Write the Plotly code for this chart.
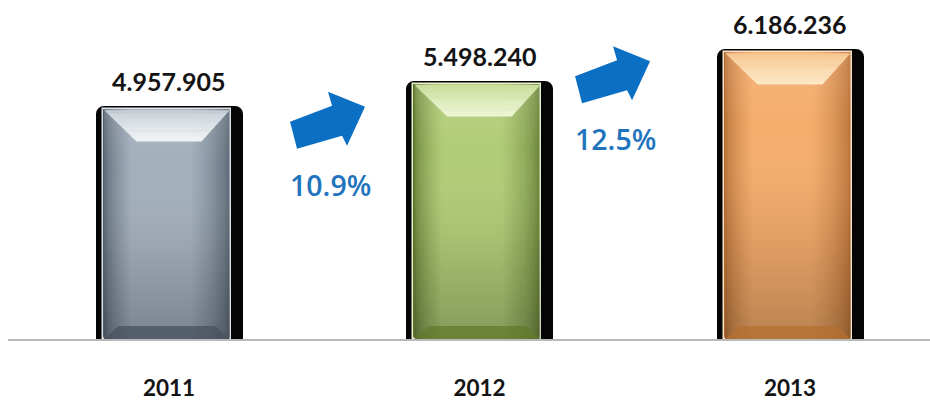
import plotly.graph_objects as go

# ---- data -------------------------------------------------------------
YEARS = ["2011", "2012", "2013"]
VALUES = [4957905, 5498240, 6186236]

# ---- styling ----------------------------------------------------------
W, H = 930, 401
M_L, M_R, M_T, M_B = 8, 0, 0, 58
X_RANGE = [-0.5185, 2.451]
Y_MAX = 7.298e6
UX = (W - M_L - M_R) / (X_RANGE[1] - X_RANGE[0])  # pixels per x unit

PALETTES = [
    # edge, centre, light rim, bevel top, bevel bottom edge, bottom band
    dict(edge="#4f5c69", centre="#a3afbb", rim="#dde3e8",
         top0="#c3ccd4", top1="#f1f4f6", bottom="#46525e"),
    dict(edge="#5f7830", centre="#b1cc78", rim="#e6efcf",
         top0="#c8dc98", top1="#eef5d6", bottom="#62792c"),
    dict(edge="#b06a30", centre="#f5ad6c", rim="#fbe3c8",
         top0="#f7c58c", top1="#fde8c6", bottom="#b3702f"),
]

FONT = "Lato, 'Open Sans', sans-serif"
PCT_FONT = "'Open Sans', Lato, sans-serif"
BLUE_ARROW = "#0b6fc3"
BLUE_TEXT = "#1f74bd"

# arrow / growth label anchor (x in category units, y in data units)
ARROW_POS = [(0.509, 4.72e6), (1.427, 5.70e6)]
# arrow outline in pixels around its anchor (y up)
ARROW_PATH = [(-37, -2), (5, 14), (1, 28), (38, 13), (20, -26), (15, -16), (-30, -29)]

# face geometry in pixels relative to the bar centre
FACE_L, FACE_R = -66, 62
SHADOW_L, SHADOW_R = -70, 71


def mix(c1, c2, t):
    a = [int(c1[i:i + 2], 16) for i in (1, 3, 5)]
    b = [int(c2[i:i + 2], 16) for i in (1, 3, 5)]
    return "#" + "".join(f"{round(a[i] + (b[i] - a[i]) * t):02x}" for i in range(3))


fig = go.Figure()
xs = list(range(len(YEARS)))

# dark rounded backing of each bar
fig.add_trace(go.Bar(
    x=xs, y=VALUES,
    offset=SHADOW_L / UX, width=(SHADOW_R - SHADOW_L) / UX,
    marker=dict(color="#050505", line=dict(color="#050505", width=6), cornerradius=5),
    hoverinfo="skip", showlegend=False,
))

# nested bars build the side-to-centre shading of each face
N_LEVELS = 20
DL, DR = 1.5, 2.1
for k in range(N_LEVELS):
    t = (k / (N_LEVELS - 1)) ** 0.55
    left = FACE_L + k * DL
    right = FACE_R - k * DR
    colors = [mix(p["edge"], p["centre"], t) for p in PALETTES]
    line = dict(width=0)
    if k == 0:
        line = dict(color=[p["rim"] for p in PALETTES], width=1.5)
    fig.add_trace(go.Bar(
        x=xs, y=VALUES,
        offset=left / UX, width=(right - left) / UX,
        marker=dict(color=colors, line=line),
        hoverinfo="skip", showlegend=False,
    ))

# soft vertical darkening towards the base of each face
for i, v in enumerate(VALUES):
    x0 = i + (FACE_L + 1) / UX
    x1 = i + (FACE_R - 1) / UX
    fig.add_trace(go.Scatter(
        x=[x0, x1, x1, x0, x0], y=[0, 0, v, v, 0],
        mode="none", fill="toself",
        fillgradient=dict(type="vertical", colorscale=[
            [0, "rgba(0,0,0,0.24)"], [0.35, "rgba(0,0,0,0.08)"],
            [0.75, "rgba(255,255,255,0.0)"], [1, "rgba(255,255,255,0.10)"]]),
        hoverinfo="skip", showlegend=False,
    ))

shapes = []


def pixel_path(pts):
    return "M " + " L ".join(f"{x:.2f},{y:.2f}" for x, y in pts) + " Z"


TOP_H, TOP_IN_L, TOP_IN_R = 31, 32, 28
BOT_H, BOT_IN = 13, 14
for i, v in enumerate(VALUES):
    p = PALETTES[i]
    fl, fr = FACE_L + 1.5, FACE_R - 1.5
    # top bevel, split into thin bands brightening downward
    bands = 14
    for b in range(bands):
        f0, f1 = b / bands, (b + 1) / bands
        yl0, yl1 = -1.5 - TOP_H * f0, -1.5 - TOP_H * f1 - 0.4
        pts = [(fl + TOP_IN_L * f0, yl0), (fr - TOP_IN_R * f0, yl0),
               (fr - TOP_IN_R * f1, yl1), (fl + TOP_IN_L * f1, yl1)]
        shapes.append(dict(
            type="path", xref="x", yref="y",
            xsizemode="pixel", ysizemode="pixel", xanchor=i, yanchor=v,
            path=pixel_path(pts),
            fillcolor=mix(p["top0"], p["top1"], ((b + 0.5) / bands) ** 0.8),
            line=dict(width=0), layer="above",
        ))
    # bottom bevel band
    pts = [(fl, 0), (fr, 0), (fr - BOT_IN, BOT_H), (fl + BOT_IN, BOT_H)]
    shapes.append(dict(
        type="path", xref="x", yref="y",
        xsizemode="pixel", ysizemode="pixel", xanchor=i, yanchor=0,
        path=pixel_path(pts), fillcolor=p["bottom"], opacity=0.75,
        line=dict(width=0), layer="above",
    ))

# growth arrows
for ax, ay in ARROW_POS:
    shapes.append(dict(
        type="path", xref="x", yref="y",
        xsizemode="pixel", ysizemode="pixel", xanchor=ax, yanchor=ay,
        path=pixel_path(ARROW_PATH), fillcolor=BLUE_ARROW,
        line=dict(width=0), layer="above",
    ))

annotations = []
for i, v in enumerate(VALUES):
    annotations.append(dict(
        x=i, y=v, xref="x", yref="y", yshift=28, showarrow=False,
        text=f"{v:,}".replace(",", "."), yanchor="middle",
        font=dict(family=FONT, size=25, color="#141414", weight="bold"),
    ))

for i, (ax, ay) in enumerate(ARROW_POS):
    growth = (VALUES[i + 1] / VALUES[i] - 1) * 100
    annotations.append(dict(
        x=ax, y=ay, xref="x", yref="y", xshift=3, yshift=-65, showarrow=False,
        text=f"{growth:.1f}%", yanchor="middle",
        font=dict(family=PCT_FONT, size=28.5, color=BLUE_TEXT, weight=600),
    ))

fig.update_layout(
    width=W, height=H,
    margin=dict(l=M_L, r=M_R, t=M_T, b=M_B),
    paper_bgcolor="white", plot_bgcolor="white",
    barmode="overlay", bargap=0,
    showlegend=False,
    shapes=shapes, annotations=annotations,
    xaxis=dict(
        range=X_RANGE, tickvals=xs, ticktext=YEARS,
        showgrid=False, zeroline=False,
        showline=True, linecolor="#b9b9b9", linewidth=2,
        ticks="", ticklabelstandoff=28,
        tickfont=dict(family=FONT, size=22.5, color="#141414", weight="bold"),
        fixedrange=True,
    ),
    yaxis=dict(range=[0, Y_MAX], visible=False, fixedrange=True),
)

fig.write_html("out.html")
